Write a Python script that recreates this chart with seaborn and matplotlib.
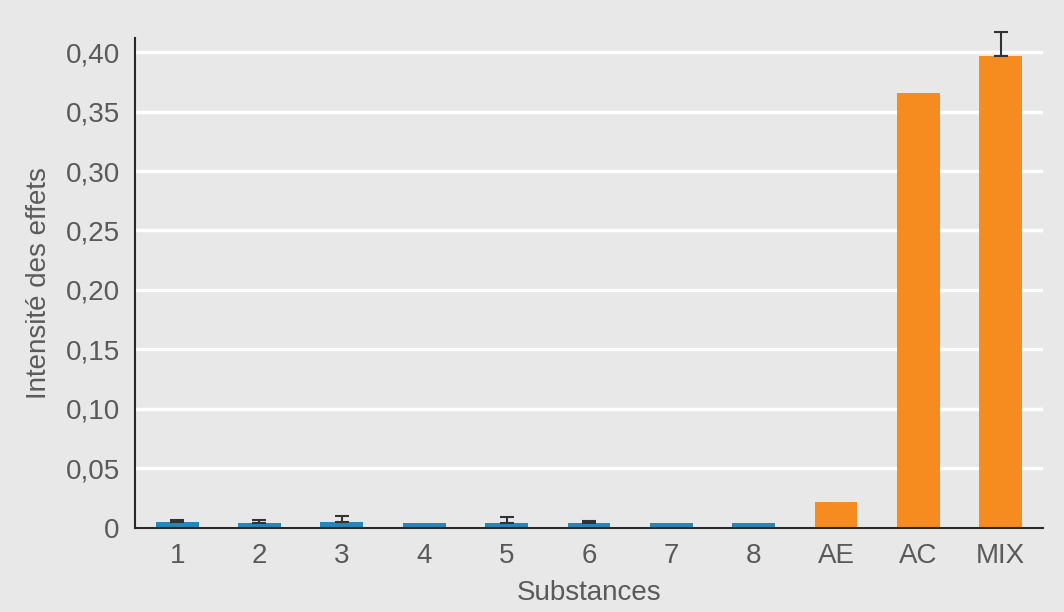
import numpy as np
import seaborn as sns
import matplotlib.pyplot as plt

# Data
categories = ["1", "2", "3", "4", "5", "6", "7", "8", "AE", "AC", "MIX"]
values = [0.005, 0.004, 0.005, 0.004, 0.004, 0.004, 0.0035, 0.0035, 0.0215, 0.366, 0.397]
errors_up = [0.0015, 0.0025, 0.0047, 0.0, 0.005, 0.0015, 0.0, 0.0, 0.0, 0.0, 0.02]
bar_colors = ["#2586b9"] * 8 + ["#f68c1f"] * 3
yticks = [0, 0.05, 0.10, 0.15, 0.20, 0.25, 0.30, 0.35, 0.40]
ytick_labels = ["0", "0,05", "0,10", "0,15", "0,20", "0,25", "0,30", "0,35", "0,40"]

bg = "#e8e8e8"
text_color = "#5a5a5a"

sns.set_style("whitegrid", {"axes.facecolor": bg, "figure.facecolor": bg,
                            "grid.color": "white"})
plt.rcParams["font.family"] = ["Liberation Sans", "DejaVu Sans"]

fig = plt.figure(figsize=(10.64, 6.12), dpi=100)
ax = fig.add_axes([0.127, 0.138, 0.853, 0.800])

sns.barplot(x=categories, y=values, hue=categories, palette=bar_colors,
            legend=False, width=0.52, saturation=1, linewidth=0, ax=ax, zorder=2)

# one-sided error bars on top of the bars
pos = np.arange(len(categories))
mask = np.array(errors_up) > 0
ax.errorbar(pos[mask], np.array(values)[mask],
            yerr=[np.zeros(mask.sum()), np.array(errors_up)[mask]],
            fmt="none", ecolor="#333333", elinewidth=1.5, capsize=5,
            capthick=1.5, zorder=3, clip_on=False)

ax.set_xlim(-0.51, 10.51)
ax.set_ylim(0, 0.412)
ax.set_yticks(yticks)
ax.set_yticklabels(ytick_labels)

ax.grid(axis="y", color="white", linewidth=2.5)
ax.grid(axis="x", visible=False)
ax.set_axisbelow(True)

for side in ["top", "right"]:
    ax.spines[side].set_visible(False)
for side in ["left", "bottom"]:
    ax.spines[side].set_visible(True)
    ax.spines[side].set_color("#2a2a2a")
    ax.spines[side].set_linewidth(1.5)
    ax.spines[side].set_zorder(4)

ax.tick_params(axis="y", colors="white", length=7, width=2.5, pad=4,
               labelsize=20, labelcolor=text_color)
ax.tick_params(axis="x", length=0, pad=11, labelsize=20, labelcolor=text_color)
# the zero tick is dark like the axes
ax.yaxis.get_major_ticks()[0].tick1line.set_color("#2a2a2a")
ax.yaxis.get_major_ticks()[0].tick1line.set_markeredgewidth(1.5)

ax.set_xlabel("Substances", fontsize=20, color=text_color, labelpad=8)
ax.set_ylabel("Intensité des effets", fontsize=20, color=text_color, labelpad=10)

plt.savefig("out.png", dpi=100, facecolor=bg)
